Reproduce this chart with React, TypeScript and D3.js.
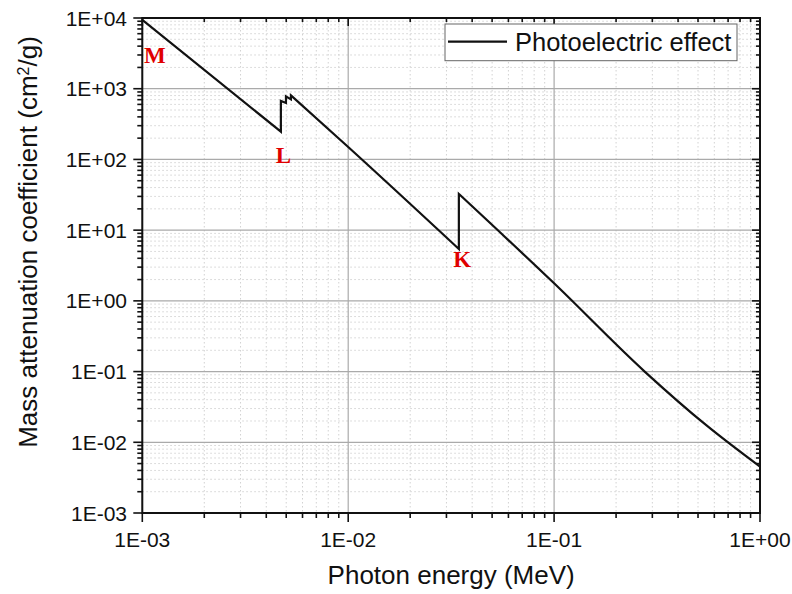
import React from "react";
import * as d3 from "d3";

// ---- data ----
// Each segment runs between absorption edges; consecutive segments are joined by vertical jumps.
const segEnergy = [
  [1.0e-3, 4.71e-3],
  [4.71e-3, 4.985e-3],
  [4.985e-3, 5.27e-3],
  [5.27e-3, 1.0e-2, 3.447e-2],
  [3.447e-2, 0.1, 0.2754, 0.55, 1.0],
];
const segMu = [
  [9400, 247],
  [672, 630],
  [779, 706],
  [804, 150, 5.42],
  [32.5, 1.77, 0.1, 0.0173, 0.00452],
];
const xDecades = [1e-3, 1e-2, 1e-1, 1];
const xTickLabels = ["1E-03", "1E-02", "1E-01", "1E+00"];
const yDecades = [1e-3, 1e-2, 1e-1, 1, 1e1, 1e2, 1e3, 1e4];
const yTickLabels = ["1E-03", "1E-02", "1E-01", "1E+00", "1E+01", "1E+02", "1E+03", "1E+04"];
const minorMult = [2, 3, 4, 5, 6, 7, 8, 9];
const edgeNames = ["M", "L", "K"];
const edgeLabelE = [1.02e-3, 4.45e-3, 3.24e-2];
const edgeLabelMu = [2300, 88, 3.05];
const legendLabel = "Photoelectric effect";

const W = 792;
const H = 594;
const left = 142.3;
const right = 760;
const top = 18;
const bottom = 513;

export default function App() {
  const x = d3.scaleLog().domain([1e-3, 1]).range([left, right]);
  const y = d3.scaleLog().domain([1e-3, 1e4]).range([bottom, top]);

  const xMinor: number[] = [];
  xDecades.slice(0, -1).forEach((d) => minorMult.forEach((m) => xMinor.push(d * m)));
  const yMinor: number[] = [];
  yDecades.slice(0, -1).forEach((d) => minorMult.forEach((m) => yMinor.push(d * m)));

  const line = d3
    .line<[number, number]>()
    .x((d) => x(d[0]))
    .y((d) => y(d[1]))
    .curve(d3.curveMonotoneX);

  const pathD = segEnergy
    .map((es, si) => {
      const p = line(es.map((e, i) => [e, segMu[si][i]] as [number, number])) || "";
      return si === 0 ? p : p.replace(/^M/, "L");
    })
    .join("");

  const font = "'Liberation Sans', Arial, sans-serif";

  return (
    <svg
      width={W}
      height={H}
      style={{ position: "absolute", left: 0, top: 0, background: "#fff" }}
      fontFamily={font}
    >
      <rect x={0} y={0} width={W} height={H} fill="#fff" />
      {/* minor grid */}
      <g stroke="#d2d2d2" strokeWidth={1} strokeDasharray="1.5,2.5">
        {xMinor.map((v, i) => (
          <line key={"xm" + i} x1={x(v)} x2={x(v)} y1={top} y2={bottom} />
        ))}
        {yMinor.map((v, i) => (
          <line key={"ym" + i} x1={left} x2={right} y1={y(v)} y2={y(v)} />
        ))}
      </g>
      {/* major grid */}
      <g stroke="#aaaaaa" strokeWidth={1.2}>
        {xDecades.map((v, i) => (
          <line key={"xg" + i} x1={x(v)} x2={x(v)} y1={top} y2={bottom} />
        ))}
        {yDecades.map((v, i) => (
          <line key={"yg" + i} x1={left} x2={right} y1={y(v)} y2={y(v)} />
        ))}
      </g>

      {/* curve */}
      <path d={pathD} fill="none" stroke="#111" strokeWidth={2.2} strokeLinejoin="miter" />

      {/* axes frame */}
      <rect x={left} y={top} width={right - left} height={bottom - top} fill="none" stroke="#111" strokeWidth={2} />

      {/* ticks */}
      <g stroke="#111" strokeWidth={1.6}>
        {xDecades.map((v, i) => (
          <g key={"xt" + i}>
            <line x1={x(v)} x2={x(v)} y1={bottom} y2={bottom + 9} />
            <line x1={x(v)} x2={x(v)} y1={top} y2={top + 8} />
          </g>
        ))}
        {xMinor.map((v, i) => (
          <g key={"xmt" + i}>
            <line x1={x(v)} x2={x(v)} y1={bottom} y2={bottom + 5} />
            <line x1={x(v)} x2={x(v)} y1={top} y2={top + 4} />
          </g>
        ))}
        {yDecades.map((v, i) => (
          <g key={"yt" + i}>
            <line x1={left - 9} x2={left} y1={y(v)} y2={y(v)} />
            <line x1={right - 8} x2={right} y1={y(v)} y2={y(v)} />
          </g>
        ))}
        {yMinor.map((v, i) => (
          <g key={"ymt" + i}>
            <line x1={left - 5} x2={left} y1={y(v)} y2={y(v)} />
            <line x1={right - 4} x2={right} y1={y(v)} y2={y(v)} />
          </g>
        ))}
      </g>

      {/* tick labels */}
      <g fontSize={21} fill="#111">
        {xDecades.map((v, i) => (
          <text key={"xl" + i} x={x(v)} y={547} textAnchor="middle">
            {xTickLabels[i]}
          </text>
        ))}
        {yDecades.map((v, i) => (
          <text key={"yl" + i} x={127} y={y(v) + 7.5} textAnchor="end">
            {yTickLabels[i]}
          </text>
        ))}
      </g>

      {/* axis titles */}
      <text x={(left + right) / 2} y={584} textAnchor="middle" fontSize={26} fill="#111">
        Photon energy (MeV)
      </text>
      <text
        transform={`translate(37, 242) rotate(-90)`}
        textAnchor="middle"
        fontSize={26}
        fill="#111"
      >
        Mass attenuation coefficient (cm
        <tspan baselineShift="super" fontSize={16}>2</tspan>
        /g)
      </text>

      {/* edge labels */}
      <g fontFamily="'Liberation Serif', 'Times New Roman', serif" fontWeight="bold" fontSize={23} fill="#e00000">
        {edgeNames.map((t, i) => (
          <text key={"el" + i} x={x(edgeLabelE[i])} y={y(edgeLabelMu[i])}>
            {t}
          </text>
        ))}
      </g>

      {/* legend */}
      <rect x={445} y={24} width={292} height={36.7} fill="#fff" stroke="#666" strokeWidth={1} />
      <line x1={448} x2={507} y1={41.7} y2={41.7} stroke="#111" strokeWidth={2.2} />
      <text x={515} y={50.5} fontSize={25.5} fill="#111">
        {legendLabel}
      </text>
    </svg>
  );
}
